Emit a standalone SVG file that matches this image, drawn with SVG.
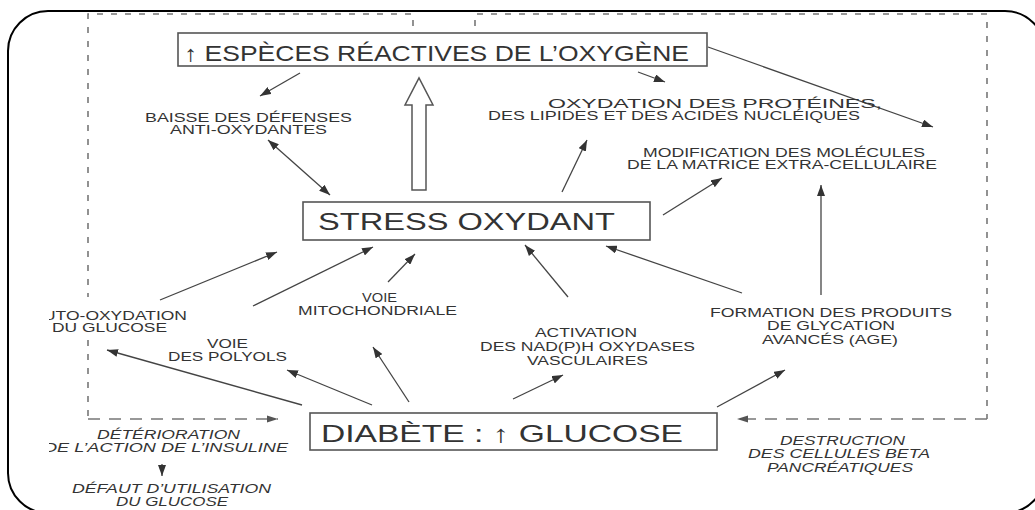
<svg xmlns="http://www.w3.org/2000/svg" width="1035" height="510" viewBox="0 0 1035 510">
<style>
  .t{font-family:"Liberation Sans",Arial,sans-serif;fill:#333;font-size:12px}
  .i{font-style:italic}
  .big{font-family:"Liberation Sans",Arial,sans-serif;fill:#333}
  .box{fill:#fff;stroke:#555;stroke-width:1.6}
  .ln{fill:none;stroke:#444;stroke-width:1.3}
  .dsh{fill:none;stroke:#777;stroke-width:1.6}
</style>
<defs>
  <marker id="ah" markerUnits="userSpaceOnUse" markerWidth="12" markerHeight="8" refX="11" refY="4" orient="auto-start-reverse">
    <path d="M0,0 L11,4 L0,8 z" fill="#333"/>
  </marker>
  <marker id="ahd" markerUnits="userSpaceOnUse" markerWidth="12" markerHeight="8" refX="11" refY="4" orient="auto">
    <path d="M0,0.5 L11,4 L0,7.5 z" fill="#555"/>
  </marker>
  <clipPath id="cl"><rect x="49" y="0" width="400" height="510"/></clipPath>
</defs>
<rect width="1035" height="510" fill="#fff"/>
<rect x="8" y="11" width="1037" height="502" rx="40" ry="40" fill="none" stroke="#000" stroke-width="2"/>

<g id="connectors">
  <path class="dsh" stroke-dasharray="6 8" d="M413,26 L413,14 L88,14 L88,297 M88,340 L88,419"/>
  <path class="dsh" stroke-dasharray="12 9" d="M88,419 L278,419" marker-end="url(#ahd)"/>
  <path class="dsh" stroke-dasharray="6 8" d="M475,26 L475,14 L987,14 L987,419"/>
  <path class="dsh" stroke-dasharray="12 9" d="M987,419 L737,419" marker-end="url(#ahd)"/>

  <polygon points="412,190 412,105 405,105 419,78 433,105 426,105 426,190" fill="#fff" stroke="#555" stroke-width="1.5"/>

  <line class="ln" x1="300" y1="73" x2="260" y2="96" marker-end="url(#ah)"/>
  <line class="ln" x1="268" y1="140" x2="330" y2="195" marker-start="url(#ah)" marker-end="url(#ah)"/>
  <line class="ln" x1="638" y1="72" x2="665" y2="82" marker-end="url(#ah)"/>
  <line class="ln" x1="708" y1="47" x2="933" y2="127" marker-end="url(#ah)"/>
  <line class="ln" x1="562" y1="192" x2="587" y2="140" marker-end="url(#ah)"/>
  <line class="ln" x1="663" y1="215" x2="722" y2="178" marker-end="url(#ah)"/>
  <line class="ln" stroke-width="1.8" x1="821" y1="295" x2="821" y2="185" marker-end="url(#ah)"/>
  <line class="ln" x1="742" y1="293" x2="606" y2="246" marker-end="url(#ah)"/>
  <line class="ln" x1="568" y1="297" x2="525" y2="245" marker-end="url(#ah)"/>
  <line class="ln" x1="388" y1="282" x2="415" y2="254" marker-end="url(#ah)"/>
  <line class="ln" x1="253" y1="306" x2="373" y2="247" marker-end="url(#ah)"/>
  <line class="ln" x1="160" y1="300" x2="277" y2="252" marker-end="url(#ah)"/>
  <line class="ln" x1="302" y1="405" x2="107" y2="350" marker-end="url(#ah)"/>
  <line class="ln" x1="372" y1="405" x2="287" y2="370" marker-end="url(#ah)"/>
  <line class="ln" x1="409" y1="402" x2="373" y2="347" marker-end="url(#ah)"/>
  <line class="ln" x1="513" y1="399" x2="563" y2="375" marker-end="url(#ah)"/>
  <line class="ln" x1="717" y1="407" x2="785" y2="370" marker-end="url(#ah)"/>
  <line class="ln" x1="162" y1="464" x2="162" y2="476" marker-end="url(#ah)"/>
</g>

<g id="especes">
  <rect class="box" x="178" y="33" width="529" height="33"/>
  <text class="big" x="184" y="61" font-size="22" textLength="505" lengthAdjust="spacingAndGlyphs">↑ ESPÈCES RÉACTIVES DE L’OXYGÈNE</text>
</g>
<g id="stress">
  <rect class="box" x="303" y="202" width="347" height="38"/>
  <text class="big" x="318" y="230" font-size="24" textLength="297" lengthAdjust="spacingAndGlyphs">STRESS OXYDANT</text>
</g>
<g id="diabete">
  <rect class="box" x="310" y="413" width="407" height="37"/>
  <text class="big" x="321" y="442" font-size="24" textLength="362" lengthAdjust="spacingAndGlyphs">DIABÈTE : ↑ GLUCOSE</text>
</g>

<g id="baisse">
  <text class="t" x="145" y="122" textLength="207" lengthAdjust="spacingAndGlyphs">BAISSE DES DÉFENSES</text>
  <text class="t" x="170" y="134" textLength="157" lengthAdjust="spacingAndGlyphs">ANTI-OXYDANTES</text>
</g>
<g id="oxydation">
  <text class="t" x="548" y="108" textLength="334" lengthAdjust="spacingAndGlyphs">OXYDATION DES PROTÉINES,</text>
  <text class="t" x="488" y="120" textLength="372" lengthAdjust="spacingAndGlyphs">DES LIPIDES ET DES ACIDES NUCLÉIQUES</text>
</g>
<g id="modification">
  <text class="t" x="643" y="157" textLength="282" lengthAdjust="spacingAndGlyphs">MODIFICATION DES MOLÉCULES</text>
  <text class="t" x="627" y="169" textLength="310" lengthAdjust="spacingAndGlyphs">DE LA MATRICE EXTRA-CELLULAIRE</text>
</g>
<g id="auto-oxydation">
  <text class="t" x="43" y="320" textLength="144" lengthAdjust="spacingAndGlyphs" clip-path="url(#cl)">UTO-OXYDATION</text>
  <text class="t" x="52" y="332" textLength="115" lengthAdjust="spacingAndGlyphs">DU GLUCOSE</text>
</g>
<g id="polyols">
  <text class="t" x="207" y="348" textLength="41" lengthAdjust="spacingAndGlyphs">VOIE</text>
  <text class="t" x="168" y="361" textLength="119" lengthAdjust="spacingAndGlyphs">DES POLYOLS</text>
</g>
<g id="mitochondriale">
  <text class="t" x="362" y="302" textLength="35" lengthAdjust="spacingAndGlyphs">VOIE</text>
  <text class="t" x="298" y="315" textLength="159" lengthAdjust="spacingAndGlyphs">MITOCHONDRIALE</text>
</g>
<g id="activation">
  <text class="t" x="535" y="337" textLength="102" lengthAdjust="spacingAndGlyphs">ACTIVATION</text>
  <text class="t" x="480" y="351" textLength="215" lengthAdjust="spacingAndGlyphs">DES NAD(P)H OXYDASES</text>
  <text class="t" x="527" y="365" textLength="121" lengthAdjust="spacingAndGlyphs">VASCULAIRES</text>
</g>
<g id="age">
  <text class="t" x="710" y="317" textLength="242" lengthAdjust="spacingAndGlyphs">FORMATION DES PRODUITS</text>
  <text class="t" x="767" y="330" textLength="128" lengthAdjust="spacingAndGlyphs">DE GLYCATION</text>
  <text class="t" x="762" y="344" textLength="136" lengthAdjust="spacingAndGlyphs">AVANCÉS (AGE)</text>
</g>
<g id="deterioration">
  <text class="t i" x="97" y="439" textLength="143" lengthAdjust="spacingAndGlyphs">DÉTÉRIORATION</text>
  <text class="t i" x="44" y="452" textLength="244" lengthAdjust="spacingAndGlyphs" clip-path="url(#cl)">DE L’ACTION DE L’INSULINE</text>
</g>
<g id="defaut">
  <text class="t i" x="72" y="493" textLength="199" lengthAdjust="spacingAndGlyphs">DÉFAUT D’UTILISATION</text>
  <text class="t i" x="116" y="506" textLength="112" lengthAdjust="spacingAndGlyphs">DU GLUCOSE</text>
</g>
<g id="destruction">
  <text class="t i" x="780" y="445" textLength="125" lengthAdjust="spacingAndGlyphs">DESTRUCTION</text>
  <text class="t i" x="748" y="458" textLength="182" lengthAdjust="spacingAndGlyphs">DES CELLULES BETA</text>
  <text class="t i" x="767" y="472" textLength="146" lengthAdjust="spacingAndGlyphs">PANCRÉATIQUES</text>
</g>
</svg>
